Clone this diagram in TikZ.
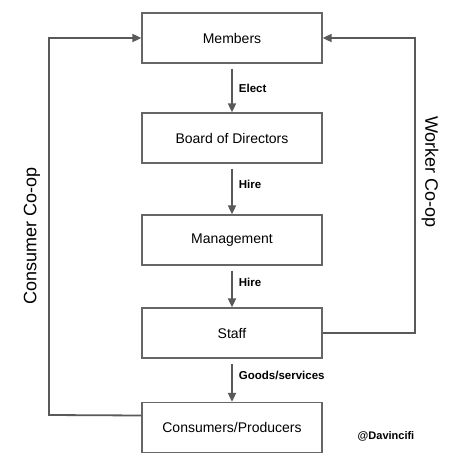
\documentclass[tikz,border=0pt]{standalone}
\usepackage{fontspec}
\setmainfont{Liberation Sans}
\usepackage{tikz}
\usetikzlibrary{arrows.meta,positioning,calc}
\definecolor{linegray}{HTML}{595959}
\definecolor{boxgray}{HTML}{666666}
\tikzset{
  orgbox/.style={draw=boxgray,line width=1.3pt,fill=white,
    minimum width=180pt,minimum height=50pt,inner sep=0pt,
    font=\fontsize{14}{16}\selectfont},
  flow/.style={-{Triangle[length=9pt,width=8pt]},draw=linegray,line width=1.8pt,
    shorten <=5pt},
  loop/.style={-{Triangle[length=9pt,width=8pt]},draw=linegray,line width=1.8pt},
  flowlabel/.style={font=\fontsize{11.5}{13}\selectfont\bfseries,anchor=west,
    inner sep=0pt},
  sidelabel/.style={font=\fontsize{18}{20}\selectfont,inner sep=0pt}
}
\begin{document}
\begin{tikzpicture}[x=1pt,y=-1pt]
\useasboundingbox (0,0) rectangle (461,471);

\node[orgbox] (mem) at (232,38) {Members};
\node[orgbox] (bod) at (232,138) {Board of Directors};
\node[orgbox] (mgt) at (232,240) {Management};
\node[orgbox] (stf) at (232,333) {Staff};
\node[orgbox] (cns) at (232,427.5) {Consumers/Producers};

\draw[flow] (mem) -- (bod) node[flowlabel,pos=.5,xshift=6pt] (elect) {Elect};
\draw[flow] (bod) -- (mgt) node[flowlabel,pos=.4,xshift=6pt] (hire1) {Hire};
\draw[flow] (mgt) -- (stf) node[flowlabel,pos=.4,xshift=6pt] (hire2) {Hire};
\draw[flow] (stf) -- (cns) node[flowlabel,pos=.4,xshift=6pt] (goods) {Goods/services};

% consumer loop on the left
\coordinate (cnsout) at ($(cns.west)+(0,-12)$);
\draw[loop] (cnsout) -- (49,415) |- (mem.west);
\node[sidelabel,rotate=90] (consumer) at (32,236) {Consumer Co-op};

% worker loop on the right
\draw[loop] (stf.east) -| (415,38) -- (mem.east);
\node[sidelabel,rotate=-90] (worker) at (430,172) {Worker Co-op};

\node[font=\fontsize{11}{13}\selectfont\bfseries] (handle) at (386,436) {@Davincifi};
\end{tikzpicture}
\end{document}
